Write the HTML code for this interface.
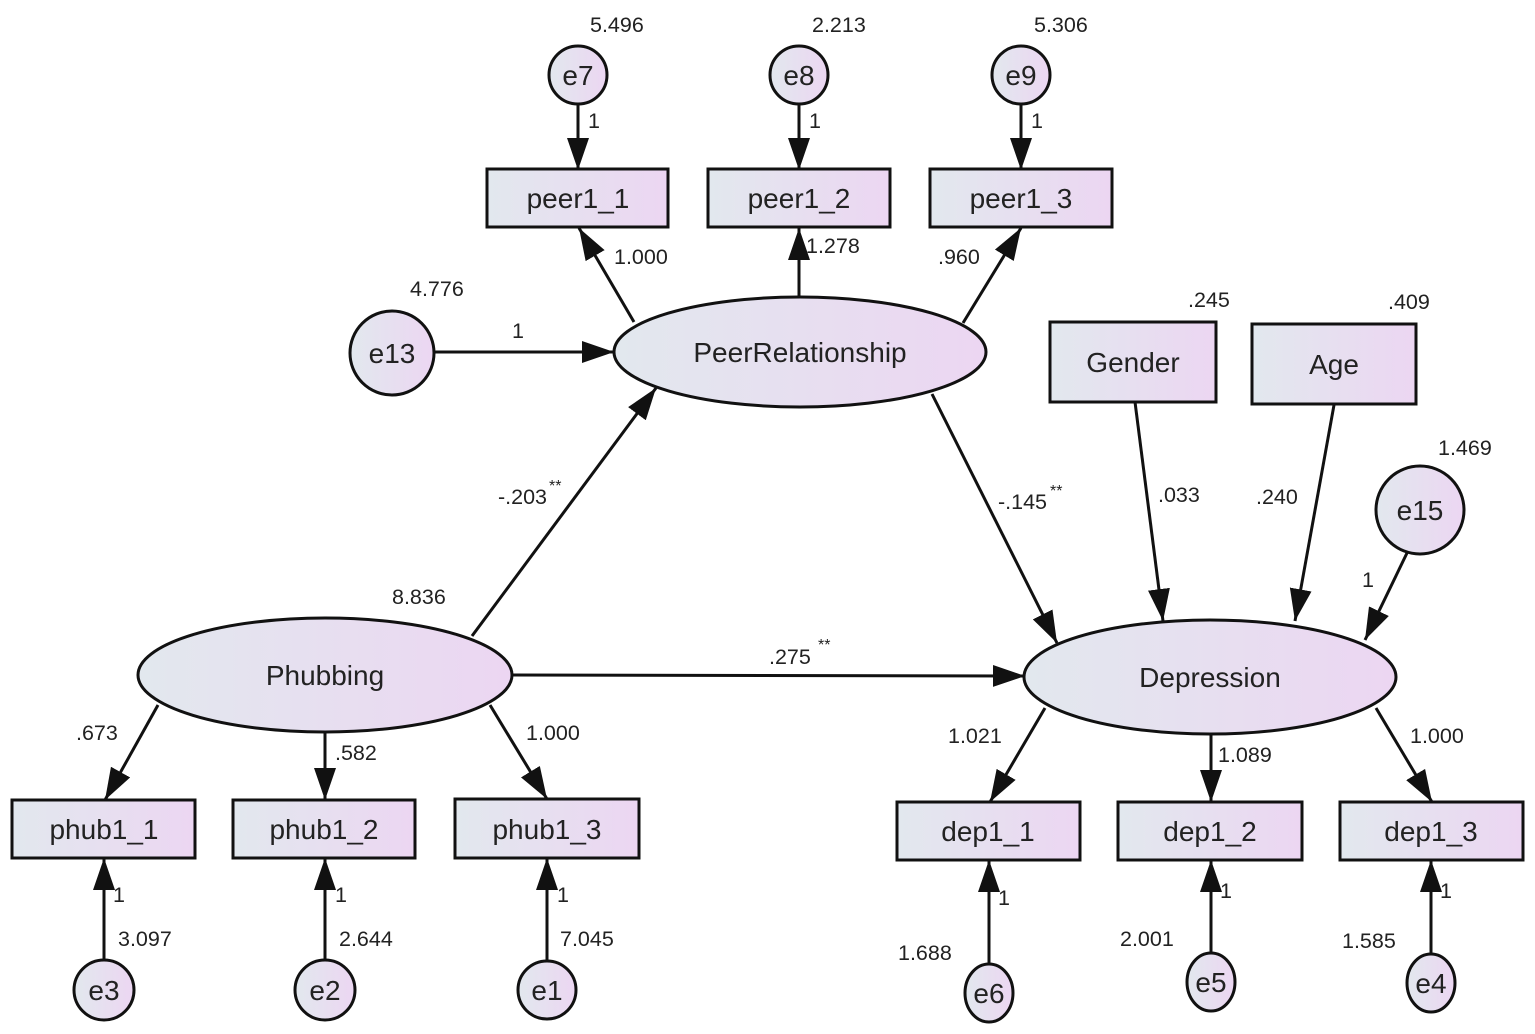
<!DOCTYPE html>
<html><head><meta charset="utf-8"><style>
html,body{margin:0;padding:0;background:#fff;}
svg{display:block;}
text{font-family:"Liberation Sans",Arial,sans-serif;fill:#222;}
.lbl{font-size:28px;text-anchor:middle;}
.num{font-size:21.5px;}
.st{font-size:16px;}
.n{fill:url(#g);stroke:#111;stroke-width:3;}
.a{stroke:#111;stroke-width:3;fill:none;marker-end:url(#ar);}
</style></head><body>
<svg width="1535" height="1034" viewBox="0 0 1535 1034" xmlns="http://www.w3.org/2000/svg">
<defs>
<linearGradient id="g" x1="0" y1="0" x2="1" y2="0">
<stop offset="0" stop-color="#e2e8ee"/><stop offset="1" stop-color="#ecd6f2"/>
</linearGradient>
<marker id="ar" markerUnits="userSpaceOnUse" markerWidth="34" markerHeight="24" refX="32" refY="12" orient="auto">
<path d="M0,1 L32,12 L0,23 Z" fill="#111"/>
</marker>
</defs>

<line class="a" x1="578" y1="104" x2="578" y2="170"/>
<line class="a" x1="799" y1="104" x2="799" y2="170"/>
<line class="a" x1="1021" y1="104" x2="1021" y2="170"/>
<line class="a" x1="634" y1="322" x2="579" y2="228"/>
<line class="a" x1="799" y1="297" x2="799" y2="228"/>
<line class="a" x1="963" y1="323" x2="1021" y2="228"/>
<line class="a" x1="434" y1="352" x2="614" y2="352"/>
<line class="a" x1="472" y1="636" x2="656" y2="388"/>
<line class="a" x1="932" y1="394" x2="1057" y2="643"/>
<line class="a" x1="512" y1="675" x2="1025" y2="676"/>
<line class="a" x1="1135" y1="402" x2="1163" y2="621"/>
<line class="a" x1="1334" y1="405" x2="1295" y2="621"/>
<line class="a" x1="1407" y1="553" x2="1365" y2="640"/>
<line class="a" x1="158" y1="705" x2="105" y2="800"/>
<line class="a" x1="325" y1="732" x2="325" y2="800"/>
<line class="a" x1="490" y1="705" x2="547" y2="799"/>
<line class="a" x1="1045" y1="708" x2="990" y2="802"/>
<line class="a" x1="1211" y1="734" x2="1211" y2="802"/>
<line class="a" x1="1376" y1="708" x2="1432" y2="802"/>
<line class="a" x1="104" y1="960" x2="104" y2="858"/>
<line class="a" x1="325" y1="960" x2="325" y2="858"/>
<line class="a" x1="547" y1="961" x2="547" y2="858"/>
<line class="a" x1="989" y1="964" x2="989" y2="860"/>
<line class="a" x1="1211" y1="953" x2="1211" y2="860"/>
<line class="a" x1="1431" y1="954" x2="1431" y2="860"/>

<circle class="n" cx="578" cy="75" r="29"/><text class="lbl" x="578" y="85">e7</text>
<circle class="n" cx="799" cy="75" r="29"/><text class="lbl" x="799" y="85">e8</text>
<circle class="n" cx="1021" cy="75" r="29"/><text class="lbl" x="1021" y="85">e9</text>

<rect class="n" x="487" y="169" width="181" height="58"/><text class="lbl" x="578" y="208">peer1_1</text>
<rect class="n" x="708" y="169" width="182" height="58"/><text class="lbl" x="799" y="208">peer1_2</text>
<rect class="n" x="930" y="169" width="182" height="58"/><text class="lbl" x="1021" y="208">peer1_3</text>

<ellipse class="n" cx="800" cy="352" rx="186" ry="55"/><text class="lbl" x="800" y="362">PeerRelationship</text>
<circle class="n" cx="392" cy="353" r="42"/><text class="lbl" x="392" y="363">e13</text>

<rect class="n" x="1050" y="322" width="166" height="80"/><text class="lbl" x="1133" y="372">Gender</text>
<rect class="n" x="1252" y="324" width="164" height="80"/><text class="lbl" x="1334" y="374">Age</text>
<circle class="n" cx="1420" cy="510" r="44"/><text class="lbl" x="1420" y="520">e15</text>

<ellipse class="n" cx="325" cy="675" rx="187" ry="57"/><text class="lbl" x="325" y="685">Phubbing</text>
<ellipse class="n" cx="1210" cy="677" rx="186" ry="57"/><text class="lbl" x="1210" y="687">Depression</text>

<rect class="n" x="12" y="800" width="183" height="58"/><text class="lbl" x="104" y="839">phub1_1</text>
<rect class="n" x="233" y="800" width="182" height="58"/><text class="lbl" x="324" y="839">phub1_2</text>
<rect class="n" x="455" y="799" width="184" height="59"/><text class="lbl" x="547" y="839">phub1_3</text>
<rect class="n" x="897" y="802" width="183" height="58"/><text class="lbl" x="988" y="841">dep1_1</text>
<rect class="n" x="1118" y="802" width="184" height="58"/><text class="lbl" x="1210" y="841">dep1_2</text>
<rect class="n" x="1340" y="802" width="183" height="58"/><text class="lbl" x="1431" y="841">dep1_3</text>

<circle class="n" cx="104" cy="990" r="30"/><text class="lbl" x="104" y="1000">e3</text>
<circle class="n" cx="325" cy="990" r="30"/><text class="lbl" x="325" y="1000">e2</text>
<circle class="n" cx="547" cy="990" r="29"/><text class="lbl" x="547" y="1000">e1</text>
<ellipse class="n" cx="989" cy="993" rx="24" ry="29"/><text class="lbl" x="989" y="1003">e6</text>
<ellipse class="n" cx="1211" cy="982" rx="24" ry="29"/><text class="lbl" x="1211" y="992">e5</text>
<ellipse class="n" cx="1431" cy="983" rx="24" ry="29"/><text class="lbl" x="1431" y="993">e4</text>

<text class="num" x="590" y="32">5.496</text>
<text class="num" x="812" y="32">2.213</text>
<text class="num" x="1034" y="32">5.306</text>
<text class="num" x="588" y="128">1</text>
<text class="num" x="809" y="128">1</text>
<text class="num" x="1031" y="128">1</text>
<text class="num" x="614" y="264">1.000</text>
<text class="num" x="806" y="253">1.278</text>
<text class="num" x="938" y="264">.960</text>
<text class="num" x="410" y="296">4.776</text>
<text class="num" x="512" y="338">1</text>
<text class="num" x="1188" y="307">.245</text>
<text class="num" x="1388" y="309">.409</text>
<text class="num" x="1438" y="455">1.469</text>
<text class="num" x="498" y="504">-.203</text><text class="st" x="549" y="491">**</text>
<text class="num" x="998" y="509">-.145</text><text class="st" x="1050" y="496">**</text>
<text class="num" x="1158" y="502">.033</text>
<text class="num" x="1256" y="504">.240</text>
<text class="num" x="1362" y="587">1</text>
<text class="num" x="392" y="604">8.836</text>
<text class="num" x="769" y="664">.275</text><text class="st" x="818" y="650">**</text>
<text class="num" x="76" y="740">.673</text>
<text class="num" x="335" y="760">.582</text>
<text class="num" x="526" y="740">1.000</text>
<text class="num" x="948" y="743">1.021</text>
<text class="num" x="1218" y="762">1.089</text>
<text class="num" x="1410" y="743">1.000</text>
<text class="num" x="113" y="902">1</text>
<text class="num" x="335" y="902">1</text>
<text class="num" x="557" y="902">1</text>
<text class="num" x="998" y="905">1</text>
<text class="num" x="1220" y="898">1</text>
<text class="num" x="1440" y="898">1</text>
<text class="num" x="118" y="946">3.097</text>
<text class="num" x="339" y="946">2.644</text>
<text class="num" x="560" y="946">7.045</text>
<text class="num" x="898" y="960">1.688</text>
<text class="num" x="1120" y="946">2.001</text>
<text class="num" x="1342" y="948">1.585</text>
</svg>
</body></html>
